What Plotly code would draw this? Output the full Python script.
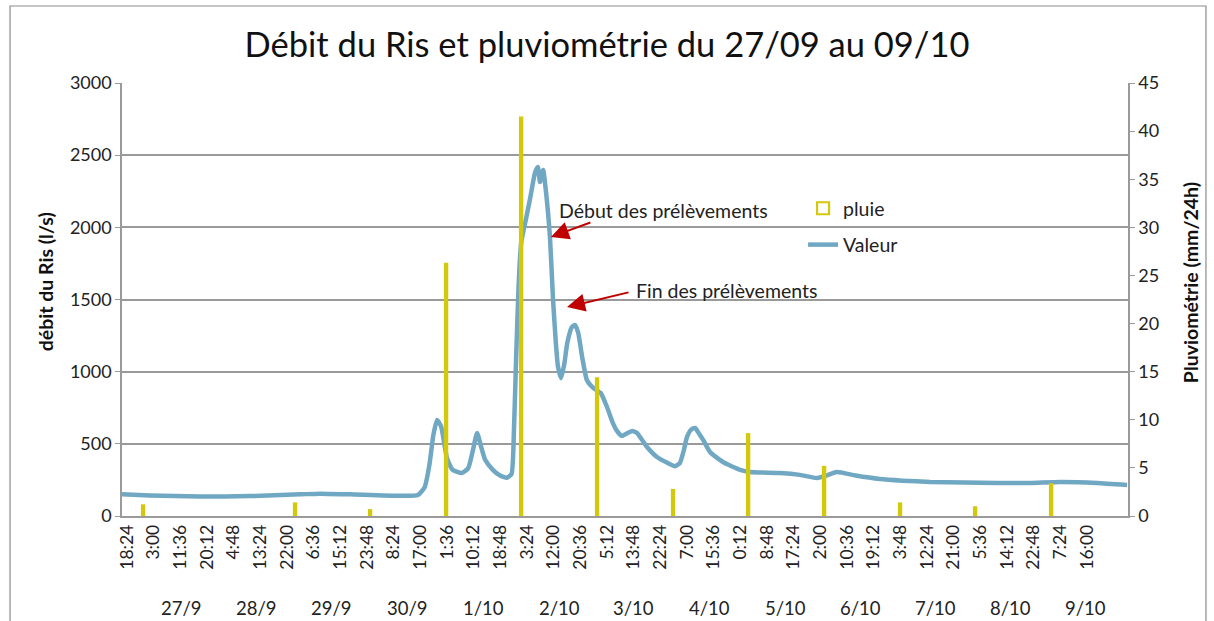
import plotly.graph_objects as go

# ---- data ----
tick_labels = ["18:24", "3:00", "11:36", "20:12", "4:48", "13:24", "22:00", "6:36", "15:12",
               "23:48", "8:24", "17:00", "1:36", "10:12", "18:48", "3:24", "12:00", "20:36",
               "5:12", "13:48", "22:24", "7:00", "15:36", "0:12", "8:48", "17:24", "2:00",
               "10:36", "19:12", "3:48", "12:24", "21:00", "5:36", "14:12", "22:48", "7:24", "16:00"]
tick_step_h = 8.6  # 8h36 between labels

day_labels = ["27/9", "28/9", "29/9", "30/9", "1/10", "2/10", "3/10", "4/10",
              "5/10", "6/10", "7/10", "8/10", "9/10"]
day_label_h = [17.7, 41.9, 66.1, 90.6, 115.1, 139.6, 163.5, 188.0, 212.2, 236.4, 260.6, 284.8, 309.0]

# rain (mm/24h) - hours since 27/9 18:24
pluie_h = [5.2, 54.2, 78.4, 102.9, 127.1, 151.6, 176.1, 200.3, 224.8, 249.3, 273.5, 298.0]
pluie_mm = [1.1, 1.3, 0.6, 26.2, 41.4, 14.3, 2.7, 8.5, 5.1, 1.3, 0.9, 3.3]

# flow (l/s)
debit_h = [-1.6, 7.4, 23.5, 39.7, 55.8, 62.2, 71.9, 88.0, 93.8, 96.0, 97.5, 98.8, 100.0, 101.3,
           103.2, 105.0, 108.0, 110.0, 111.5, 112.9, 114.2, 115.5, 118.0, 120.3, 122.5, 124.0,
           124.8, 125.5, 126.3, 127.1, 128.6, 130.0, 131.6, 132.5, 133.2, 134.2, 135.1, 136.4,
           137.4, 138.3, 139.0, 140.0, 141.0, 142.0, 143.5, 144.5, 145.5, 146.8, 148.3, 150.0,
           151.5, 152.8, 154.8, 156.7, 158.0, 159.6, 161.0, 162.9, 164.5, 166.0, 167.7, 170.9,
           174.1, 176.7, 178.3, 179.5, 180.6, 182.0, 183.2, 184.5, 185.8, 188.0, 192.2, 197.7,
           200.9, 210.6, 217.0, 222.5, 225.1, 228.9, 235.0, 242.8, 250.0, 259.0, 270.0, 280.6,
           291.2, 300.9, 312.8, 322.5]
debit_v = [150, 142, 135, 138, 150, 155, 150, 140, 145, 200, 350, 560, 665, 620,
           400, 320, 298, 330, 450, 575, 480, 390, 320, 280, 265, 290,
           600, 1100, 1600, 1890, 2050, 2200, 2380, 2418, 2314, 2397, 2250, 1933,
           1497, 1200, 1033, 955, 1050, 1200, 1310, 1323, 1270, 1100, 942, 894,
           870, 852, 755, 644, 590, 555, 570, 589, 575, 530, 478, 409,
           370, 345, 367, 450, 548, 600, 610, 570, 527, 444, 374, 320,
           305, 298, 285, 263, 277, 305, 280, 256, 245, 236, 232, 229,
           229, 236, 229, 215]

FONT = "Lato"
YEL = "#D4C80C"
BLUE = "#70A8C4"
GRID = "#9a9a9a"
TXT = "#222222"

fig = go.Figure()
fig.add_trace(go.Bar(x=pluie_h, y=pluie_mm, name="pluie", yaxis="y2", width=0.7, legendgroup="a",
                     marker=dict(color="white", line=dict(color=YEL, width=2.2))))
fig.add_trace(go.Scatter(x=debit_h, y=debit_v, name="Valeur", mode="lines", legendgroup="b",
                         line=dict(color=BLUE, width=4.5, shape="spline", smoothing=0.5)))

annotations = []
for lab, h in zip(day_labels, day_label_h):
    annotations.append(dict(x=h, y=-0.2125, xref="x", yref="paper", text=lab, showarrow=False,
                            xanchor="center", yanchor="middle",
                            font=dict(family=FONT, size=18.5, color=TXT)))
annotations += [
    dict(x=-0.0765, y=0.54, xref="paper", yref="paper", text="<b>débit du Ris (l/s)</b>",
         xanchor="center", yanchor="middle",
         textangle=-90, showarrow=False, font=dict(family=FONT, size=19.5, color="#111")),
    dict(x=1.0616, y=0.54, xref="paper", yref="paper", text="<b>Pluviométrie (mm/24h)</b>",
         xanchor="center", yanchor="middle",
         textangle=-90, showarrow=False, font=dict(family=FONT, size=19.5, color="#111")),
    dict(x=138.7, y=2114, xref="x", yref="y", text="Début des prélèvements", xanchor="left",
         showarrow=False, font=dict(family=FONT, size=19.5, color=TXT)),
    dict(x=163.5, y=1559, xref="x", yref="y", text="Fin des prélèvements", xanchor="left",
         showarrow=False, font=dict(family=FONT, size=19.5, color=TXT)),
    dict(x=136.7, y=1933, xref="x", yref="y", text="", showarrow=True, ax=41, ay=-15,
         arrowhead=2, arrowsize=1.8, arrowwidth=2, arrowcolor="#C00000"),
    dict(x=141.9, y=1448, xref="x", yref="y", text="", showarrow=True, ax=63, ay=-15,
         arrowhead=2, arrowsize=1.8, arrowwidth=2, arrowcolor="#C00000"),
]

fig.update_layout(
    width=1214, height=621,
    margin=dict(l=122, r=86, t=83, b=105),
    paper_bgcolor="white", plot_bgcolor="white",
    title=dict(text="Débit du Ris et pluviométrie du 27/09 au 09/10", x=0.5, xanchor="center",
               y=1 - 45 / 621, yanchor="middle", font=dict(family=FONT, size=34.5, color="#111")),
    font=dict(family=FONT, size=18, color=TXT),
    showlegend=True,
    legend=dict(x=0.677, y=0.755, xanchor="left", yanchor="top", bgcolor="rgba(0,0,0,0)",
                traceorder="grouped", tracegroupgap=8,
                font=dict(family=FONT, size=19.5, color=TXT)),
    xaxis=dict(range=[-1.6, 322.8], tickmode="array",
               tickvals=[i * tick_step_h for i in range(len(tick_labels))], ticktext=tick_labels,
               tickangle=-90, tickfont=dict(family=FONT, size=17.5, color=TXT),
               showgrid=False, showline=True, linecolor=GRID, linewidth=1.5, ticks="", zeroline=False),
    yaxis=dict(range=[0, 3000], tickvals=[0, 500, 1000, 1500, 2000, 2500, 3000],
               showgrid=True, gridcolor=GRID, gridwidth=1.5, showline=True, linecolor=GRID,
               linewidth=1.5, ticks="outside", ticklen=5, tickcolor=GRID, zeroline=False,
               tickfont=dict(family=FONT, size=18, color=TXT)),
    yaxis2=dict(range=[0, 45], tickvals=[0, 5, 10, 15, 20, 25, 30, 35, 40, 45], overlaying="y",
                side="right", showgrid=False, showline=True, linecolor=GRID, linewidth=1.5,
                ticks="outside", ticklen=5, tickcolor=GRID, zeroline=False,
                tickfont=dict(family=FONT, size=18, color=TXT)),
    annotations=annotations,
    shapes=[dict(type="rect", xref="paper", yref="paper", x0=-0.1113, x1=1.0775, y0=-0.263, y1=1.1778,
                 line=dict(color="#8c8c8c", width=1.2), fillcolor="rgba(0,0,0,0)", layer="below")],
)

fig.write_html("out.html", config={"displayModeBar": False},
               post_script="document.body.style.margin='0px';")
